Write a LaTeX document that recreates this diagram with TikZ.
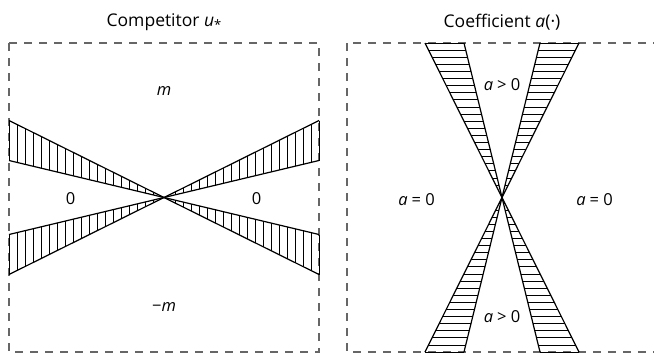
\documentclass[tikz,border=0pt]{standalone}
\usepackage{fontspec}
\setmainfont{Open Sans}
\definecolor{boxgray}{HTML}{666666}
\begin{document}
\begin{tikzpicture}[x=1pt,y=-1pt,
  frame/.style={draw=boxgray,line width=1.3pt,dash pattern=on 8pt off 7pt},
  edge/.style={draw=black,line width=1.2pt},
  hatch/.style={draw=black,line width=0.75pt},
  title/.style={font=\fontsize{17.5}{20}\selectfont,inner sep=0pt},
  lbl/.style={font=\fontsize{16.5}{19}\selectfont,inner sep=0pt}]
\useasboundingbox (0,0) rectangle (654,356);
% frames
\draw[frame] (9,43) rectangle (319,352);
\draw[frame] (347,43) rectangle (660,352);
% ---------- left: competitor ----------
\coordinate (cl) at (164,197.5);
\foreach \sx in {-1,1}{
  \foreach \sy in {-1,1}{
    \foreach \d in {155,147,...,3}{
      \draw[hatch] ({164+\sx*\d},{197.5+\sy*77*\d/155}) -- ({164+\sx*\d},{197.5+\sy*37*\d/155});
    }
    \draw[edge] ({164+\sx*155},{197.5+\sy*77}) -- (cl);
    \draw[edge] ({164+\sx*155},{197.5+\sy*37}) -- (cl);
  }
}
% ---------- right: coefficient ----------
\coordinate (cr) at (502,197.5);
\foreach \sx in {-1,1}{
  \foreach \sy in {-1,1}{
    \foreach \d in {154.5,147.4,...,3}{
      \draw[hatch] ({502+\sx*77*\d/154.5},{197.5+\sy*\d}) -- ({502+\sx*38*\d/154.5},{197.5+\sy*\d});
    }
    \draw[edge] ({502+\sx*77},{197.5+\sy*154.5}) -- (cr);
    \draw[edge] ({502+\sx*38},{197.5+\sy*154.5}) -- (cr);
  }
}
% ---------- labels ----------
\node[title] (tl) at (164,22) {Competitor \textit{u}\raisebox{-0.35ex}{\fontsize{13}{14}\selectfont *}};
\node[title] (tr) at (502,22) {Coefficient \textit{a}(·)};
\node[lbl] (m) at (164,91) {\textit{m}};
\node[lbl] (mm) at (164,307.5) {−\textit{m}};
\node[lbl] (z1) at (70.5,199) {0};
\node[lbl] (z2) at (256.5,199) {0};
\node[lbl] (a1) at (416.5,199.5) {\textit{a}\hspace{0.25em}=\hspace{0.25em}0};
\node[lbl] (a2) at (594.5,199.5) {\textit{a}\hspace{0.25em}=\hspace{0.25em}0};
\node[lbl] (p1) at (502,85) {\textit{a}\hspace{0.25em}>\hspace{0.25em}0};
\node[lbl] (p2) at (502,317) {\textit{a}\hspace{0.25em}>\hspace{0.25em}0};
\end{tikzpicture}
\end{document}
